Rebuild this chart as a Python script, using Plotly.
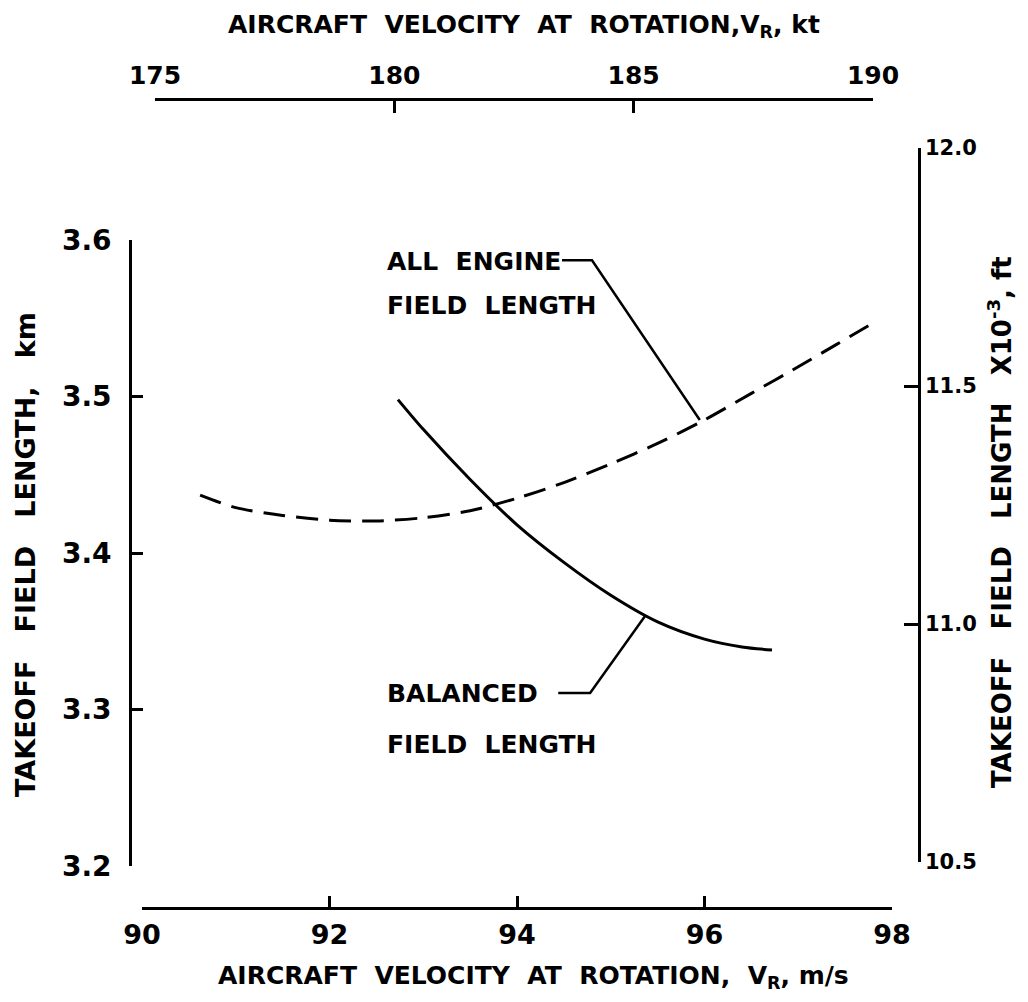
import plotly.graph_objects as go

# ---- data ----
# All-engine field length (dashed), velocity m/s vs length km
all_engine_v = [90.62, 91.0, 91.5, 92.0, 92.5, 93.0, 93.5, 94.0, 94.5, 95.0, 95.5, 96.0, 96.5, 97.0, 97.4, 97.8]
all_engine_km = [3.437, 3.429, 3.424, 3.421, 3.4205, 3.4225, 3.427, 3.435, 3.445, 3.457, 3.470, 3.485, 3.502, 3.519, 3.533, 3.547]

# Balanced field length (solid)
balanced_v = [92.73, 93.0, 93.5, 94.0, 94.5, 95.0, 95.5, 96.0, 96.4, 96.72]
balanced_km = [3.498, 3.479, 3.447, 3.418, 3.394, 3.373, 3.356, 3.345, 3.340, 3.338]

# Leader lines for labels (data coords, m/s & km)
leader_all_v = [94.48, 94.80, 95.95]
leader_all_km = [3.587, 3.587, 3.485]
leader_bal_v = [94.44, 94.78, 95.37]
leader_bal_km = [3.3105, 3.3105, 3.360]

x_ticks_ms = [90, 92, 94, 96, 98]
x_ticks_kt = [175, 180, 185, 190]
y_ticks_km = [3.2, 3.3, 3.4, 3.5, 3.6]
y_ticks_kft = [10.5, 11.0, 11.5, 12.0]
y_ticks_kft_text = ["10.5", "11.0", "11.5", "12.0"]

# page has an 8px body margin; size the figure so it fits the window exactly
OFF = 8
W, H = 1028 - 2 * OFF, 1002 - 2 * OFF
def fx(px):
    return (px - OFF) / W
def fy(py):
    return 1 - (py - OFF) / H

FONT = "DejaVu Sans"
BLACK = "#000000"
LW = 2.6

fig = go.Figure()

fig.add_trace(go.Scatter(x=all_engine_v, y=all_engine_km, mode="lines",
                         line=dict(color=BLACK, width=3, dash="22px,11px", shape="spline", smoothing=0.8),
                         hoverinfo="skip", showlegend=False))
fig.add_trace(go.Scatter(x=balanced_v, y=balanced_km, mode="lines",
                         line=dict(color=BLACK, width=3, shape="spline", smoothing=0.8),
                         hoverinfo="skip", showlegend=False))
fig.add_trace(go.Scatter(x=leader_all_v, y=leader_all_km, mode="lines",
                         line=dict(color=BLACK, width=2.5), hoverinfo="skip", showlegend=False))
fig.add_trace(go.Scatter(x=leader_bal_v, y=leader_bal_km, mode="lines",
                         line=dict(color=BLACK, width=2.5), hoverinfo="skip", showlegend=False))
# invisible trace to register the secondary (kt / ft) axes
fig.add_trace(go.Scatter(x=[x_ticks_kt[0], x_ticks_kt[-1]], y=[y_ticks_kft[0], y_ticks_kft[-1]],
                         xaxis="x2", yaxis="y2", mode="lines", line=dict(width=0),
                         opacity=0, hoverinfo="skip", showlegend=False))

common = dict(showgrid=False, zeroline=False, showline=True, linecolor=BLACK, linewidth=LW,
              ticks="inside", tickcolor=BLACK, tickwidth=LW, automargin=False)

fig.update_layout(
    width=W, height=H,
    margin=dict(l=0, r=0, t=0, b=0),
    paper_bgcolor="white", plot_bgcolor="rgba(0,0,0,0)",
    font=dict(family=FONT, color=BLACK, weight="bold"),
    xaxis=dict(**common, domain=[fx(142), fx(892)], range=[90, 98], anchor="free", position=fy(908),
               tickvals=x_ticks_ms, ticklen=11, tickfont=dict(size=27, family=FONT, weight="bold"),
               ticklabelstandoff=2),
    yaxis=dict(**common, domain=[fy(866), fy(240)], range=[3.2, 3.6], anchor="free", position=fx(130),
               tickvals=y_ticks_km, tickformat=".1f", ticklen=11,
               tickfont=dict(size=28, family=FONT, weight="bold"), ticklabelstandoff=12),
    xaxis2=dict(**common, domain=[fx(155), fx(873)], range=[175, 190], anchor="free", position=fy(99),
                side="top", tickvals=x_ticks_kt, ticklen=12,
                tickfont=dict(size=25, family=FONT, weight="bold"), ticklabelstandoff=4),
    yaxis2=dict(**common, domain=[fy(862), fy(148)], range=[10.5, 12.0], anchor="free", position=fx(919),
                side="right", tickvals=y_ticks_kft, ticktext=y_ticks_kft_text, ticklen=14,
                tickfont=dict(size=21, family=FONT, weight="bold"), ticklabelstandoff=0),
)

NB = "\u00a0"
def spaced(s, n=2):
    return s.replace(" ", NB * n)

ann_font = dict(size=25, family=FONT, color=BLACK, weight="bold")
annotations = [
    dict(text=spaced("AIRCRAFT VELOCITY AT ROTATION, ") + "V<sub>R</sub>, m/s",
         x=fx(533), y=fy(977), xref="paper", yref="paper", showarrow=False, font=ann_font,
         xanchor="center", yanchor="middle"),
    dict(text=spaced("AIRCRAFT VELOCITY AT ROTATION,") + "V<sub>R</sub>, kt",
         x=fx(524), y=fy(26), xref="paper", yref="paper", showarrow=False, font=ann_font,
         xanchor="center", yanchor="middle"),
    dict(text=spaced("TAKEOFF FIELD LENGTH, km", 3), textangle=-90,
         x=fx(25), y=fy(555), xref="paper", yref="paper", showarrow=False,
         font=dict(size=27, family=FONT, color=BLACK, weight="bold"),
         xanchor="center", yanchor="middle"),
    dict(text=spaced("TAKEOFF FIELD LENGTH X10", 3) + "<sup>-3</sup>, ft", textangle=-90,
         x=fx(1000), y=fy(522), xref="paper", yref="paper", showarrow=False,
         font=dict(size=26, family=FONT, color=BLACK, weight="bold"),
         xanchor="center", yanchor="middle"),
    dict(text=spaced("ALL ENGINE"), x=fx(385), y=fy(261), xref="paper", yref="paper",
         showarrow=False, font=ann_font, xanchor="left", yanchor="middle"),
    dict(text=spaced("FIELD LENGTH"), x=fx(385), y=fy(305), xref="paper", yref="paper",
         showarrow=False, font=ann_font, xanchor="left", yanchor="middle"),
    dict(text=spaced("BALANCED"), x=fx(385), y=fy(693), xref="paper", yref="paper",
         showarrow=False, font=ann_font, xanchor="left", yanchor="middle"),
    dict(text=spaced("FIELD LENGTH"), x=fx(385), y=fy(744), xref="paper", yref="paper",
         showarrow=False, font=ann_font, xanchor="left", yanchor="middle"),
]
fig.update_layout(annotations=annotations)

fig.write_html("out.html")
